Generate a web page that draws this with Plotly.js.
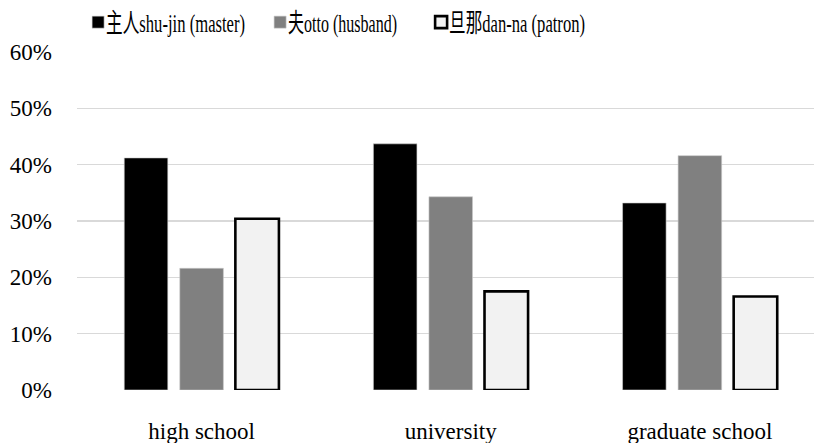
<!DOCTYPE html>
<html>
<head>
<meta charset="utf-8">
<script src="https://cdn.plot.ly/plotly-3.0.1.min.js"></script>
<style>
  html, body { margin: 0; padding: 0; background: #ffffff; overflow: hidden; }
  #chart { width: 814px; height: 443px; }
</style>
</head>
<body>
<div id="chart"></div>
<script>
// Education levels on the category axis
const levels = ['high school', 'university', 'graduate school'];

// Share of respondents using each term for a husband (fractions)
const shujin = [0.412, 0.437, 0.332];
const otto   = [0.216, 0.343, 0.416];
const danna  = [0.304, 0.175, 0.166];

// Series names shown in the legend
const seriesNames = ['主人shu-jin (master)', '夫otto (husband)', '旦那dan-na (patron)'];

// Y axis tick values and labels
const yTickVals = [0, 0.1, 0.2, 0.3, 0.4, 0.5, 0.6];
const yTickText = ['0%', '10%', '20%', '30%', '40%', '50%', '60%'];

const FONT = 'Liberation Serif, Noto Sans CJK JP, serif';

const traces = [
  {
    type: 'bar', name: seriesNames[0], x: levels, y: shujin,
    marker: { color: '#000000', line: { color: '#d0d0d0', width: 0.6 } },
    hoverinfo: 'skip'
  },
  {
    type: 'bar', name: seriesNames[1], x: levels, y: otto,
    marker: { color: '#808080', line: { color: '#c8c8c8', width: 0.6 } },
    hoverinfo: 'skip'
  },
  {
    type: 'bar', name: seriesNames[2], x: levels, y: danna,
    marker: { color: '#f2f2f2', line: { color: '#000000', width: 2.6 } },
    hoverinfo: 'skip'
  }
];

const layout = {
  width: 814,
  height: 443,
  margin: { l: 77, r: 0, t: 52, b: 52.5, autoexpand: false },
  paper_bgcolor: '#ffffff',
  plot_bgcolor: '#ffffff',
  font: { family: FONT, size: 23, color: '#000000' },
  barmode: 'group',
  bargap: 0.331,
  bargroupgap: 0.216,
  showlegend: true,
  legend: {
    orientation: 'h',
    xref: 'paper', yref: 'paper',
    xanchor: 'left', yanchor: 'middle',
    x: 0.0015, y: 1.088,
    entrywidth: 150,
    entrywidthmode: 'pixels',
    bgcolor: 'rgba(0,0,0,0)',
    borderwidth: 0,
    font: { family: FONT, size: 26, color: '#000000' }
  },
  xaxis: {
    type: 'category',
    range: [-0.5, 2.458],
    showgrid: false,
    showline: false,
    zeroline: false,
    ticks: '',
    ticklabelstandoff: 25,
    tickfont: { family: FONT, size: 23, color: '#000000' }
  },
  yaxis: {
    range: [0, 0.6],
    tickvals: yTickVals,
    ticktext: yTickText,
    showgrid: true,
    gridcolor: '#d9d9d9',
    gridwidth: 1.5,
    zeroline: false,
    showline: false,
    ticks: '',
    ticklabelstandoff: 24,
    tickfont: { family: FONT, size: 23, color: '#000000' }
  }
};

// Narrow legend: horizontally condensed text, slim swatches, fixed entry offsets
const legendTextWidths = [139, 109, 136];
const legendEntryOffsets = [0, 182, 343];

function tidyLegend(gd) {
  gd.querySelectorAll('g.legend [clip-path]').forEach(function (el) {
    el.removeAttribute('clip-path');
  });
  gd.querySelectorAll('g.legend g.traces').forEach(function (item) {
    const txt = item.querySelector('text.legendtext');
    if (!txt) return;
    const i = seriesNames.indexOf(txt.textContent);
    if (i < 0) return;
    const ty = (item.getAttribute('transform') || '').match(/translate\(\s*[-\d.]+[ ,]+([-\d.]+)/);
    item.setAttribute('transform', 'translate(' + legendEntryOffsets[i] + ',' + (ty ? ty[1] : 0) + ')');
    if (!txt.dataset.condensed) {
      txt.setAttribute('x', '0');
      const natural = txt.getComputedTextLength();
      const sx = natural > 0 ? legendTextWidths[i] / natural : 1;
      txt.setAttribute('transform', 'translate(28,0) scale(' + sx.toFixed(4) + ',1)');
      txt.dataset.condensed = '1';
    }
    const sw = item.querySelector('path.legendbar');
    if (sw) {
      sw.setAttribute('d', i === 2 ? 'M4,5.5H-4V-5.5H4Z' : 'M3.5,6H-3.5V-6H3.5Z');
    }
  });
}

Plotly.newPlot('chart', traces, layout, { staticPlot: true, displayModeBar: false }).then(function (gd) {
  tidyLegend(gd);
  gd.on('plotly_afterplot', function () { tidyLegend(gd); });
  setTimeout(function () { tidyLegend(gd); }, 200);
});
</script>
</body>
</html>
